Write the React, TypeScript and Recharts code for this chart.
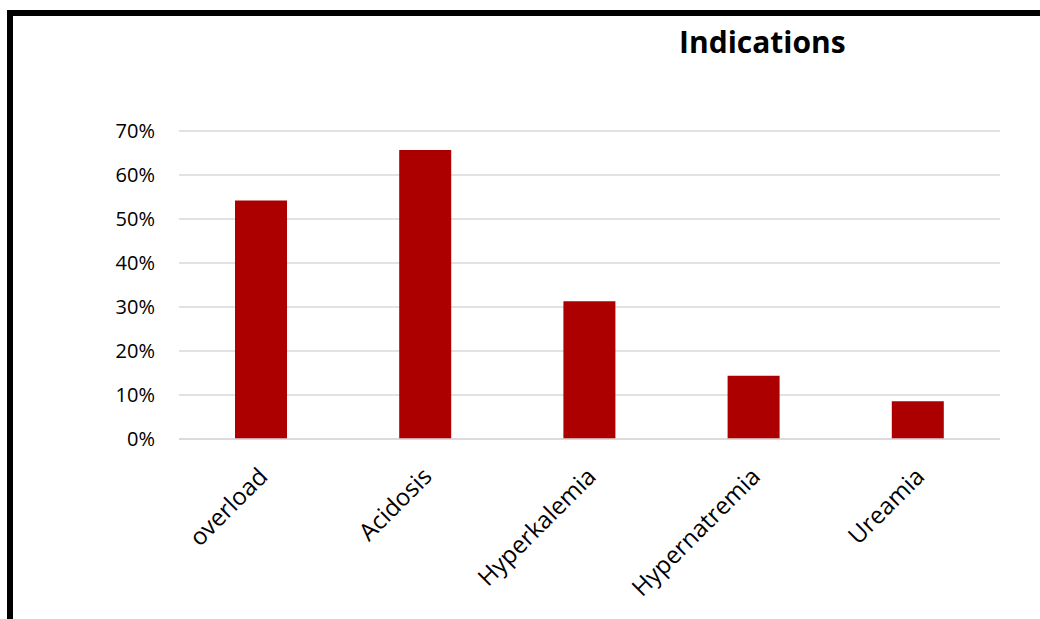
import React from "react";
import { BarChart, Bar, XAxis, YAxis, CartesianGrid } from "recharts";

const categories = ["overload", "Acidosis", "Hyperkalemia", "Hypernatremia", "Ureamia"];
const shares = [0.542, 0.657, 0.313, 0.144, 0.086];
const yTicks = [0, 0.1, 0.2, 0.3, 0.4, 0.5, 0.6, 0.7];

const data = categories.map((name, i) => ({ name, value: shares[i] }));

const FONT = "'Open Sans', sans-serif";

// Excel style slanted category label, end of text pinned near the tick
function SlantTick(props: any) {
  const { x, y, payload } = props;
  return (
    <g transform={`translate(${x + 8},${y + 31})`}>
      <text
        x={0}
        y={0}
        textAnchor="end"
        transform="rotate(-45)"
        fontFamily={FONT}
        fontSize={24}
        fill="#000"
      >
        {payload.value}
      </text>
    </g>
  );
}

export default function App() {
  return (
    <div style={{ position: "fixed", left: 0, top: 0, width: 1040, height: 619, overflow: "hidden", background: "#fff" }}>
      {/* black frame, only left and top edges show */}
      <div
        style={{
          position: "absolute",
          left: 7,
          top: 10,
          width: 1200,
          height: 800,
          border: "6px solid #000",
        }}
      />
      <div
        style={{
          position: "absolute",
          left: 679,
          top: 21,
          fontFamily: FONT,
          fontWeight: 700,
          fontSize: 30,
          color: "#000",
        }}
      >
        Indications
      </div>
      <div style={{ position: "absolute", left: 0, top: 0 }}>
        <BarChart
          width={1040}
          height={619}
          data={data}
          margin={{ top: 131, right: 40, left: 0, bottom: 0 }}
          barSize={52}
        >
          <CartesianGrid vertical={false} stroke="#d9d9d9" strokeWidth={1.5} />
          <XAxis
            dataKey="name"
            axisLine={{ stroke: "#d9d9d9", strokeWidth: 1.5 }}
            tickLine={false}
            interval={0}
            tick={<SlantTick />}
            height={180}
          />
          <YAxis
            width={179}
            domain={[0, 0.7]}
            ticks={yTicks}
            interval={0}
            tickFormatter={(v: number) => `${Math.round(v * 100)}%`}
            axisLine={false}
            tickLine={false}
            tickSize={0}
            tickMargin={24}
            tick={{ fill: "#000", fontSize: 20, fontFamily: FONT }}
          />
          <Bar dataKey="value" fill="#ac0000" isAnimationActive={false} />
        </BarChart>
      </div>
    </div>
  );
}
